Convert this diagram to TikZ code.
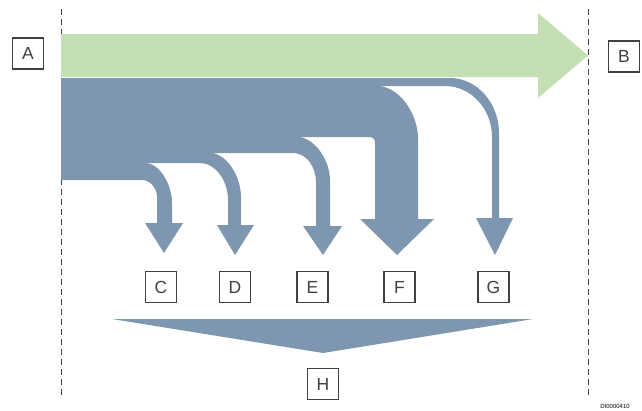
\documentclass[tikz,border=0pt]{standalone}
\usepackage{fontspec}
\setmainfont{Liberation Sans}
\definecolor{flowblue}{RGB}{127,150,177}
\definecolor{flowgreen}{RGB}{197,223,181}
\definecolor{boxgray}{RGB}{64,64,64}
\tikzset{
  lbl/.style={draw=boxgray, line width=1.4bp, minimum size=31bp, inner sep=0pt,
    text=boxgray, font=\fontsize{17.5bp}{17.5bp}\selectfont},
  bound/.style={draw=boxgray, line width=1bp, dash pattern=on 6bp off 4bp},
  blueflow/.style={fill=flowblue, draw=none},
  greenflow/.style={fill=flowgreen, draw=none}
}
\begin{document}
\begin{tikzpicture}[x=1bp, y=-1bp]
\useasboundingbox (0,0) rectangle (642,410);
% boundaries
\coordinate (L1) at (61,9);
\coordinate (L2) at (61,396);
\coordinate (R1) at (588,9);
\coordinate (R2) at (588,396);
\draw[bound] (L1) -- (L2);
\draw[bound] (R1) -- (R2);
% green arrow
\path[greenflow] (61,34) -- (538,34) -- (538,13) -- (588,55.5) -- (538,98) -- (538,77) -- (61,77) -- cycle;
% blue flow
\path[blueflow] (61,78) -- (450,78)
  .. controls (477,78) and (499,103) .. (499,133)
  -- (499,218) -- (513,218) -- (495,255) -- (476,218) -- (492,218) -- (492,137)
  .. controls (492,109) and (471,86) .. (445,86)
  -- (377,86)
  .. controls (400,86) and (418,115) .. (418,138)
  -- (418,219) -- (434,219) -- (397,255) -- (360,219) -- (375,219) -- (375,143)
  .. controls (375,139) and (373,137) .. (369,137)
  -- (297,137)
  .. controls (315,137) and (330,161) .. (330,180)
  -- (330,226) -- (342,226) -- (323,255) -- (303,226) -- (316,226) -- (316,183)
  .. controls (316,166) and (306,153) .. (293,153)
  -- (210,153)
  .. controls (227,153) and (241,177) .. (241,197)
  -- (241,225) -- (254,225) -- (235,255) -- (217,225) -- (228,225) -- (228,200)
  .. controls (228,180) and (215,163) .. (200,163)
  -- (145,163)
  .. controls (160,163) and (172,185) .. (172,203)
  -- (172,223) -- (183,223) -- (164,253) -- (145,223) -- (157,223) -- (157,197)
  .. controls (157,188) and (150,180) .. (142,180)
  -- (61,180) -- cycle;
% merging triangle
\path[blueflow] (112,319) -- (533,319) -- (323,353) -- cycle;
% labels
\node[lbl] (A) at (28,53.5) {A};
\node[lbl] (B) at (624,56.5) {B};
\node[lbl] (C) at (161,287) {C};
\node[lbl] (D) at (235,287) {D};
\node[lbl] (E) at (312.5,287) {E};
\node[lbl] (F) at (399.5,287) {F};
\node[lbl] (G) at (493.5,287) {G};
\node[lbl] (H) at (323,384) {H};
\node[font=\fontsize{6bp}{6bp}\selectfont, text=black, inner sep=0pt] (id) at (615,406) {DI0000410};
\end{tikzpicture}
\end{document}
